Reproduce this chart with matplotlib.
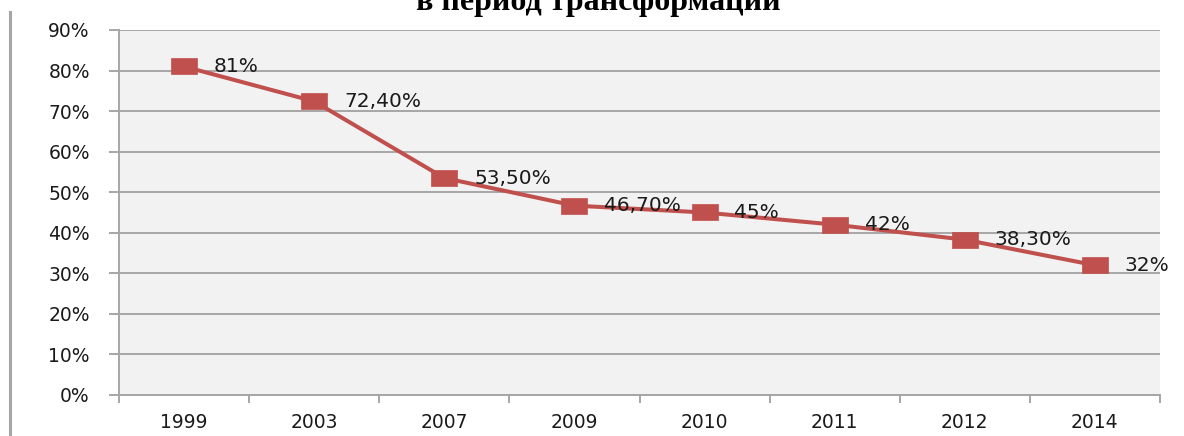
import matplotlib
matplotlib.use('Agg')
import matplotlib.pyplot as plt
from matplotlib.lines import Line2D
import numpy as np

# Данные графика
years = ['1999', '2003', '2007', '2009', '2010', '2011', '2012', '2014']
values = [81, 72.4, 53.5, 46.7, 45, 42, 38.3, 32]
labels = ['81%', '72,40%', '53,50%', '46,70%', '45%', '42%', '38,30%', '32%']
y_ticks = [0, 10, 20, 30, 40, 50, 60, 70, 80, 90]

line_color = '#C0504D'
grid_color = '#a6a6a6'

# Маркер - вытянутый по горизонтали квадрат
rect_marker = [(-1, -0.62), (1, -0.62), (1, 0.62), (-1, 0.62), (-1, -0.62)]

fig = plt.figure(figsize=(11.84, 4.36), dpi=100)
ax = fig.add_axes([119 / 1184, 1 - 395 / 436, (1160 - 119) / 1184, (395 - 30) / 436])
ax.set_facecolor('#f2f2f2')

x = np.arange(len(years))
ax.plot(x, values, '-', color=line_color, linewidth=2.9, marker=rect_marker,
        markersize=18.5, markerfacecolor=line_color, markeredgecolor=line_color,
        markeredgewidth=0.5, zorder=3)

# Подписи значений
for xi, v, lab in zip(x, values, labels):
    ax.annotate(lab, (xi, v), xytext=(21.5, 0), textcoords='offset points',
                va='center', ha='left', fontsize=14.5, color='#1a1a1a', zorder=4)

ax.set_xlim(-0.5, len(years) - 0.5)
ax.set_ylim(0, 90)
ax.set_yticks(y_ticks)
ax.set_yticklabels([f'{t}%' for t in y_ticks])
ax.set_xticks(x)
ax.set_xticklabels(years)
ax.set_xticks(np.arange(len(years) + 1) - 0.5, minor=True)

ax.yaxis.grid(True, color=grid_color, linewidth=1.4)
ax.set_axisbelow(True)

for s in ['top', 'right']:
    ax.spines[s].set_visible(False)
for s in ['left', 'bottom']:
    ax.spines[s].set_color(grid_color)
    ax.spines[s].set_linewidth(1.4)

ax.tick_params(axis='y', length=7, width=1.4, color=grid_color, pad=14,
               labelsize=13.5, labelcolor='#1a1a1a')
ax.tick_params(axis='x', which='major', length=0, pad=13,
               labelsize=13.5, labelcolor='#1a1a1a')
ax.tick_params(axis='x', which='minor', length=6, width=1.4, color=grid_color)

# Заголовок (обрезан сверху, как в оригинале)
fig.text(0.505, 1 - 10 / 436, 'в период трансформации', ha='center', va='baseline',
         fontsize=23, fontweight='bold', family='Liberation Serif')

# Рамка слева
fig.add_artist(Line2D([10 / 1184, 10 / 1184], [0, 1 - 12 / 436],
                      color=grid_color, linewidth=2.2, transform=fig.transFigure))

fig.savefig('out.png', dpi=100)
